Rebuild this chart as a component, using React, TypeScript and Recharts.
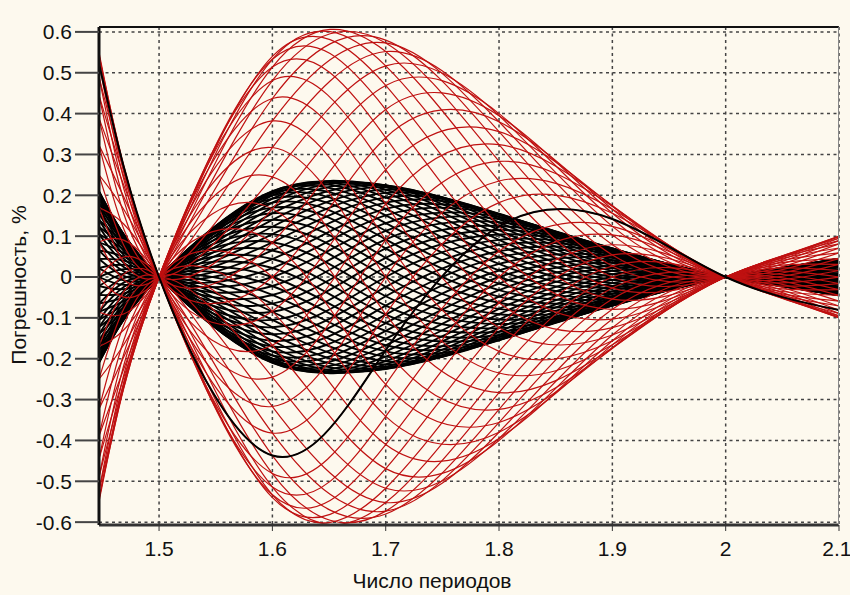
import { LineChart, Line, XAxis, YAxis, CartesianGrid } from 'recharts';

// x positions where every curve is sampled (number of periods)
const xSamples = [1.447, 1.5, 1.6, 1.7, 1.8, 1.9, 2.0, 2.1];
const xTicks = [1.5, 1.6, 1.7, 1.8, 1.9, 2, 2.1];
const yTicks = [-0.6, -0.5, -0.4, -0.3, -0.2, -0.1, 0, 0.1, 0.2, 0.3, 0.4, 0.5, 0.6];

// red family, 40 start phases: error value of each curve at one x sample
const red1447 = [-0.523, -0.543, -0.55, -0.543, -0.523, -0.49, -0.445, -0.389, -0.323, -0.25, -0.17, -0.086, 0, 0.086, 0.17, 0.25, 0.323, 0.389, 0.445, 0.49, 0.523, 0.543, 0.55, 0.543, 0.523, 0.49, 0.445, 0.389, 0.323, 0.25, 0.17, 0.086, 0, -0.086, -0.17, -0.25, -0.323, -0.389, -0.445, -0.49];
const red16 = [0.437, 0.382, 0.317, 0.245, 0.167, 0.084, 0, -0.084, -0.167, -0.245, -0.317, -0.382, -0.437, -0.481, -0.514, -0.533, -0.54, -0.533, -0.514, -0.481, -0.437, -0.382, -0.317, -0.245, -0.167, -0.084, 0, 0.084, 0.167, 0.245, 0.317, 0.382, 0.437, 0.481, 0.514, 0.533, 0.54, 0.533, 0.514, 0.481];
const red17 = [0.179, 0.091, 0, -0.091, -0.179, -0.263, -0.341, -0.41, -0.469, -0.517, -0.552, -0.573, -0.58, -0.573, -0.552, -0.517, -0.469, -0.41, -0.341, -0.263, -0.179, -0.091, 0, 0.091, 0.179, 0.263, 0.341, 0.41, 0.469, 0.517, 0.552, 0.573, 0.58, 0.573, 0.552, 0.517, 0.469, 0.41, 0.341, 0.263];
const red18 = [-0.124, -0.182, -0.235, -0.283, -0.324, -0.356, -0.38, -0.395, -0.4, -0.395, -0.38, -0.356, -0.324, -0.283, -0.235, -0.182, -0.124, -0.063, 0, 0.063, 0.124, 0.182, 0.235, 0.283, 0.324, 0.356, 0.38, 0.395, 0.4, 0.395, 0.38, 0.356, 0.324, 0.283, 0.235, 0.182, 0.124, 0.063, 0, -0.063];
const red19 = [-0.142, -0.156, -0.166, -0.173, -0.175, -0.173, -0.166, -0.156, -0.142, -0.124, -0.103, -0.079, -0.054, -0.027, 0, 0.027, 0.054, 0.079, 0.103, 0.124, 0.142, 0.156, 0.166, 0.173, 0.175, 0.173, 0.166, 0.156, 0.142, 0.124, 0.103, 0.079, 0.054, 0.027, 0, -0.027, -0.054, -0.079, -0.103, -0.124];
const red21 = [0.081, 0.071, 0.059, 0.045, 0.031, 0.016, 0, -0.016, -0.031, -0.045, -0.059, -0.071, -0.081, -0.089, -0.095, -0.099, -0.1, -0.099, -0.095, -0.089, -0.081, -0.071, -0.059, -0.045, -0.031, -0.016, 0, 0.016, 0.031, 0.045, 0.059, 0.071, 0.081, 0.089, 0.095, 0.099, 0.1, 0.099, 0.095, 0.089];

// black family, 60 start phases
const black1447 = [
  -0.2, -0.205, -0.209, -0.21, -0.209, -0.205, -0.2, -0.192, -0.182, -0.17,
  -0.156, -0.14, -0.123, -0.105, -0.085, -0.065, -0.044, -0.022, 0, 0.022,
  0.044, 0.065, 0.085, 0.105, 0.123, 0.14, 0.156, 0.17, 0.182, 0.192,
  0.2, 0.205, 0.209, 0.21, 0.209, 0.205, 0.2, 0.192, 0.182, 0.17,
  0.156, 0.14, 0.123, 0.105, 0.085, 0.065, 0.044, 0.022, 0, -0.022,
  -0.044, -0.065, -0.085, -0.105, -0.123, -0.14, -0.156, -0.17, -0.182, -0.192,
];
const black16 = [
  0.17, 0.156, 0.14, 0.123, 0.105, 0.085, 0.065, 0.044, 0.022, 0,
  -0.022, -0.044, -0.065, -0.085, -0.105, -0.123, -0.14, -0.156, -0.17, -0.182,
  -0.192, -0.2, -0.205, -0.209, -0.21, -0.209, -0.205, -0.2, -0.192, -0.182,
  -0.17, -0.156, -0.14, -0.123, -0.105, -0.085, -0.065, -0.044, -0.022, 0,
  0.022, 0.044, 0.065, 0.085, 0.105, 0.123, 0.14, 0.156, 0.17, 0.182,
  0.192, 0.2, 0.205, 0.209, 0.21, 0.209, 0.205, 0.2, 0.192, 0.182,
];
const black17 = [
  0.07, 0.047, 0.024, 0, -0.024, -0.047, -0.07, -0.092, -0.113, -0.132,
  -0.151, -0.167, -0.182, -0.195, -0.206, -0.214, -0.22, -0.224, -0.225, -0.224,
  -0.22, -0.214, -0.206, -0.195, -0.182, -0.167, -0.151, -0.132, -0.113, -0.092,
  -0.07, -0.047, -0.024, 0, 0.024, 0.047, 0.07, 0.092, 0.113, 0.132,
  0.151, 0.167, 0.182, 0.195, 0.206, 0.214, 0.22, 0.224, 0.225, 0.224,
  0.22, 0.214, 0.206, 0.195, 0.182, 0.167, 0.151, 0.132, 0.113, 0.092,
];
const black18 = [
  -0.048, -0.063, -0.078, -0.091, -0.104, -0.115, -0.125, -0.134, -0.142, -0.147,
  -0.152, -0.154, -0.155, -0.154, -0.152, -0.147, -0.142, -0.134, -0.125, -0.115,
  -0.104, -0.091, -0.078, -0.063, -0.048, -0.032, -0.016, 0, 0.016, 0.032,
  0.048, 0.063, 0.078, 0.091, 0.104, 0.115, 0.125, 0.134, 0.142, 0.147,
  0.152, 0.154, 0.155, 0.154, 0.152, 0.147, 0.142, 0.134, 0.125, 0.115,
  0.104, 0.091, 0.078, 0.063, 0.048, 0.032, 0.016, 0, -0.016, -0.032,
];
const black19 = [
  -0.057, -0.061, -0.064, -0.067, -0.068, -0.07, -0.07, -0.07, -0.068, -0.067,
  -0.064, -0.061, -0.057, -0.052, -0.047, -0.041, -0.035, -0.028, -0.022, -0.015,
  -0.007, 0, 0.007, 0.015, 0.022, 0.028, 0.035, 0.041, 0.047, 0.052,
  0.057, 0.061, 0.064, 0.067, 0.068, 0.07, 0.07, 0.07, 0.068, 0.067,
  0.064, 0.061, 0.057, 0.052, 0.047, 0.041, 0.035, 0.028, 0.022, 0.015,
  0.007, 0, -0.007, -0.015, -0.022, -0.028, -0.035, -0.041, -0.047, -0.052,
];
const black21 = [
  0.036, 0.033, 0.03, 0.026, 0.023, 0.018, 0.014, 0.009, 0.005, 0,
  -0.005, -0.009, -0.014, -0.018, -0.023, -0.026, -0.03, -0.033, -0.036, -0.039,
  -0.041, -0.043, -0.044, -0.045, -0.045, -0.045, -0.044, -0.043, -0.041, -0.039,
  -0.036, -0.033, -0.03, -0.026, -0.023, -0.018, -0.014, -0.009, -0.005, 0,
  0.005, 0.009, 0.014, 0.018, 0.023, 0.026, 0.03, 0.033, 0.036, 0.039,
  0.041, 0.043, 0.044, 0.045, 0.045, 0.045, 0.044, 0.043, 0.041, 0.039,
];

// every curve passes through zero at 1.5 and 2 periods
const redKnot = red16.map(() => 0);
const blackKnot = black16.map(() => 0);

const redColumns = [red1447, redKnot, red16, red17, red18, red19, redKnot, red21];
const blackColumns = [black1447, blackKnot, black16, black17, black18, black19, blackKnot, black21];

// the red curve that is traced in black
const tracedCurve = 20;

const rows = xSamples.map((x, i) => {
  const row: Record<string, number> = { x };
  redColumns[i].forEach((v, k) => { row[`r${k}`] = v; });
  blackColumns[i].forEach((v, k) => { row[`b${k}`] = v; });
  return row;
});

const font = '"Liberation Sans", Arial, sans-serif';
const bg = '#fdf9ee';

export default function App() {
  return (
    <div style={{ position: 'fixed', left: 0, top: 0, width: 850, height: 595, background: bg, fontFamily: font, overflow: 'hidden' }}>
      <LineChart width={850} height={595} data={rows} margin={{ top: 27, right: 11, bottom: 0, left: 0 }}>
        <CartesianGrid stroke="#444" strokeWidth={1.5} strokeDasharray="3 3.5" />
        <XAxis
          dataKey="x"
          type="number"
          domain={[1.447, 2.1]}
          ticks={xTicks}
          allowDataOverflow
          height={70}
          tickSize={6}
          tickMargin={10}
          tickLine={{ stroke: '#333', strokeWidth: 1 }}
          axisLine={{ stroke: '#333', strokeWidth: 3 }}
          tick={{ fontSize: 21, fill: '#111', fontFamily: font }}
          tickFormatter={(v: number) => String(Math.round(v * 10) / 10)}
        />
        <YAxis
          type="number"
          domain={[-0.607, 0.612]}
          ticks={yTicks}
          allowDataOverflow
          width={99}
          tickSize={24}
          tickMargin={3}
          tickLine={{ stroke: '#444', strokeWidth: 2 }}
          axisLine={{ stroke: '#111', strokeWidth: 3 }}
          tick={{ fontSize: 21, fill: '#111', fontFamily: font }}
          tickFormatter={(v: number) => (v === 0 ? '0' : v.toFixed(1))}
        />
        {blackColumns[0].map((_, k) => (
          <Line key={`b${k}`} dataKey={`b${k}`} type="natural" stroke="#000" strokeWidth={1.9} dot={false} isAnimationActive={false} />
        ))}
        {redColumns[0].map((_, k) => (
          <Line key={`r${k}`} dataKey={`r${k}`} type="natural" stroke="#bf1111" strokeWidth={1.2} dot={false} isAnimationActive={false} />
        ))}
        <Line dataKey={`r${tracedCurve}`} type="natural" stroke="#000" strokeWidth={2} dot={false} isAnimationActive={false} />
      </LineChart>
      {/* frame on top and right of the plot */}
      <div style={{ position: 'absolute', left: 99, top: 26, width: 740, height: 499, borderTop: '2px solid #111', borderRight: '1px solid #888', boxSizing: 'border-box', pointerEvents: 'none' }} />
      <div style={{ position: 'absolute', left: 232, top: 569, width: 400, textAlign: 'center', fontSize: 21, lineHeight: '24px', color: '#111' }}>Число периодов</div>
      <div style={{ position: 'absolute', left: 19, top: 285, width: 0, height: 0 }}>
        <div style={{ position: 'absolute', left: -100, top: -12, width: 200, textAlign: 'center', fontSize: 21, color: '#111', transform: 'rotate(-90deg)', whiteSpace: 'nowrap' }}>Погрешность, %</div>
      </div>
    </div>
  );
}
